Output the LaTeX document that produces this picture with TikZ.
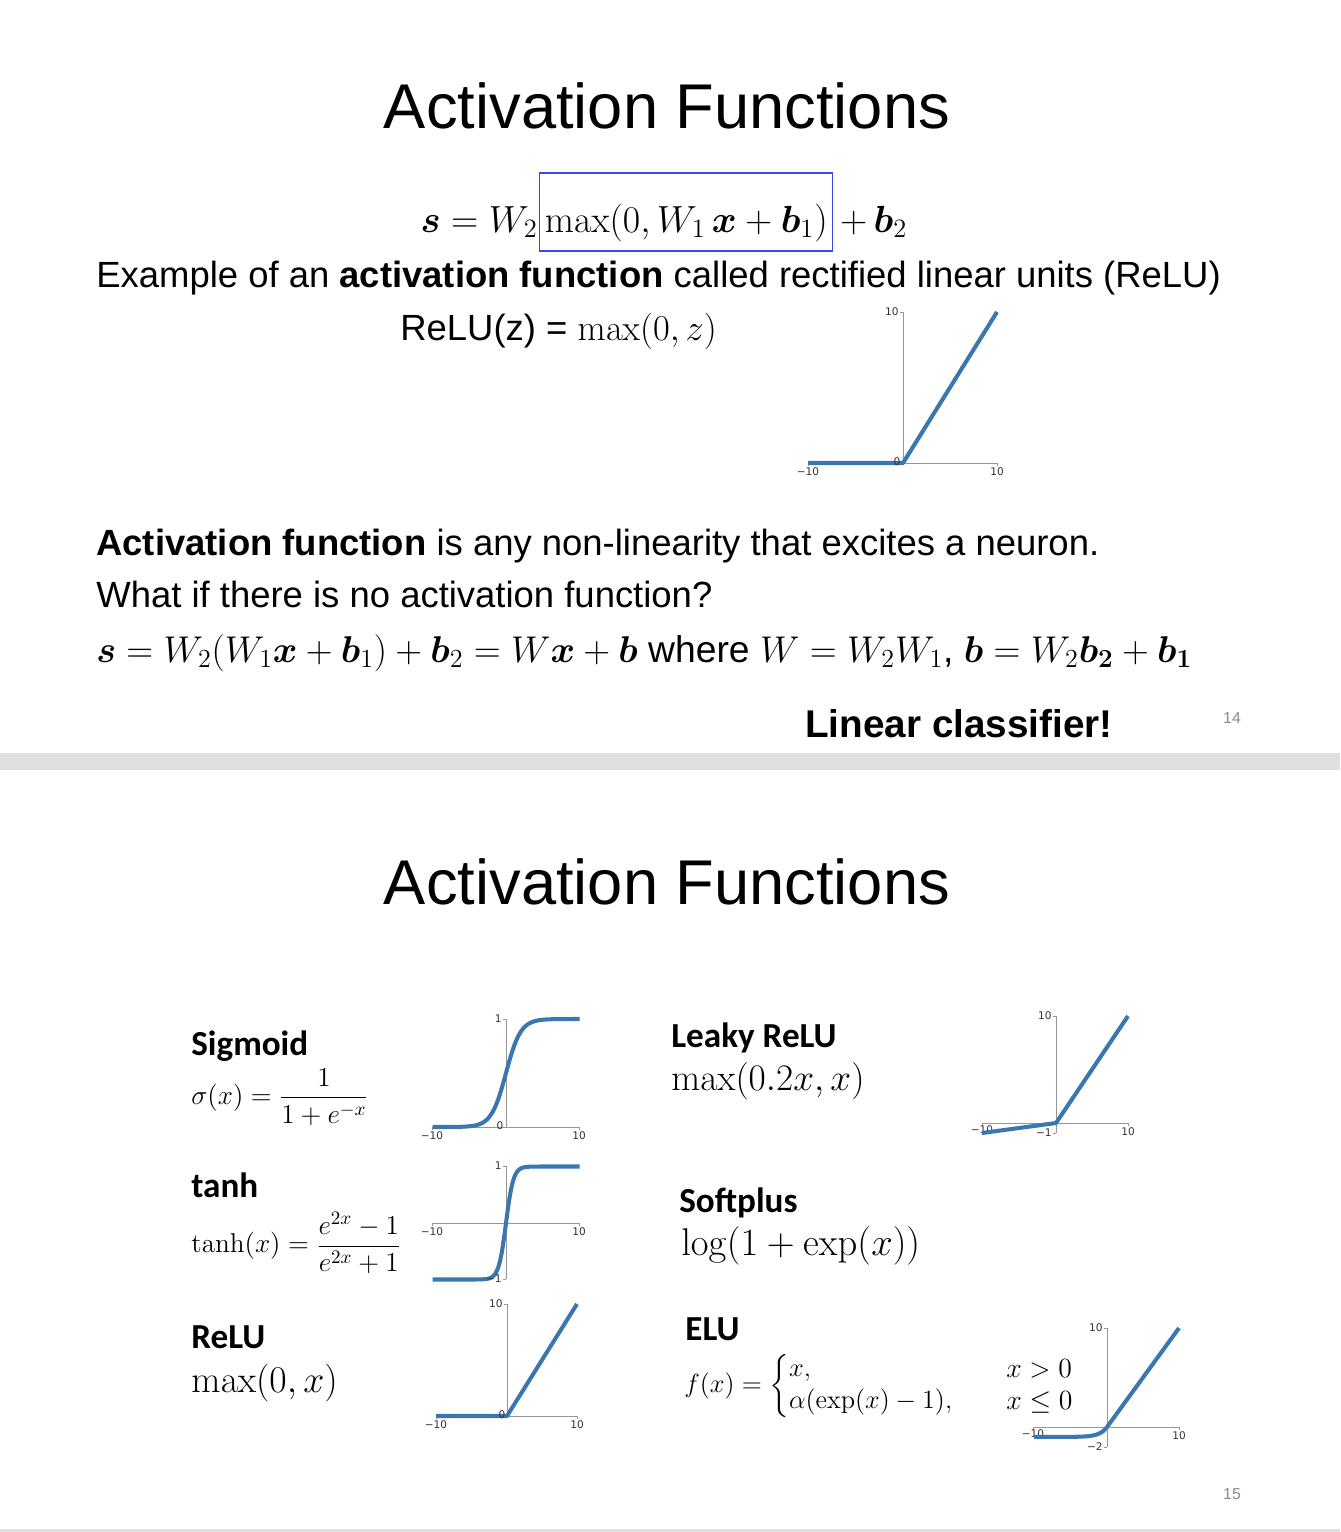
\RequirePackage{fix-cm}
\documentclass[tikz,border=0pt]{standalone}
\usepackage{amsmath,amssymb}
\usepackage[no-math]{fontspec}
\setmainfont{Liberation Sans}
\newfontfamily\calibri{Carlito}
\newfontfamily\ticksans{DejaVu Sans}
\usetikzlibrary{positioning}
\definecolor{plotblue}{RGB}{58,118,175}
\definecolor{boxblue}{RGB}{60,70,240}
\definecolor{axisgrey}{RGB}{150,150,150}
\definecolor{bandgrey}{RGB}{224,224,224}
\definecolor{pagegrey}{RGB}{140,140,140}
\tikzset{
	txt/.style={inner sep=0pt, anchor=base west},
	titletxt/.style={inner sep=0pt, anchor=base, font=\fontsize{36}{40}\selectfont},
	bodytxt/.style={txt, font=\fontsize{20.75}{25}\selectfont},
	mathtxt/.style={txt, font=\fontsize{#1}{#1}\selectfont},
	namelbl/.style={txt, font=\calibri\bfseries\fontsize{20}{24}\selectfont},
	ticklbl/.style={inner sep=0.6pt, font=\ticksans\fontsize{6}{7}\selectfont, text=black!80},
	axisline/.style={axisgrey, line width=0.5pt},
	curve/.style={plotblue, line width=2.3pt, line join=round},
	pagenum/.style={inner sep=0pt, anchor=base, font=\fontsize{9}{10}\selectfont, text=pagegrey}
}

\begin{document}
\begin{tikzpicture}[x=0.02cm, y=-0.02cm]
	\useasboundingbox[fill=white] (0,0) rectangle (1340,1532);

	\node[titletxt] (titlea) at (667,128) {Activation Functions};
	\node[mathtxt=21.5, anchor=base east] (eqlhs) at (538,232) {$\boldsymbol{s}=W_2$};
	\node[mathtxt=21.5, draw=boxblue, line width=0.6pt, inner xsep=3pt, inner ysep=0pt, text height=1.18cm, text depth=0.38cm] (eqbox) at (539,232) {$\max(0,W_1\,\boldsymbol{x}+\boldsymbol{b}_1)$};
	\node[mathtxt=21.5] (eqrhs) at (eqbox.base east) {$\,+\,\boldsymbol{b}_2$};
	\node[bodytxt] (example) at (96,287) {Example of an \textbf{activation function} called rectified linear units (ReLU)};
	\node[bodytxt] (reludef) at (400,340) {ReLU(z) = $\max(0,z)$};

	\draw[axisline] (808,463) -- (997,463);
	\draw[axisline] (903,312) -- (903,463);
	\draw[axisline] (808,463) -- (808,466);
	\draw[axisline] (997,463) -- (997,466);
	\draw[axisline] (900,312) -- (903,312);
	\draw[curve] (808,463) -- (903,463) -- (997,312);
	\node[ticklbl, anchor=east] (ra10) at (900,312) {10};
	\node[ticklbl, anchor=north] (ram10) at (808,466) {−10};
	\node[ticklbl, anchor=north] (rap10) at (997,466) {10};
	\node[ticklbl] (ra0) at (897,462) {0};

	\node[bodytxt] (actdef) at (96,555) {\textbf{Activation function} is any non-linearity that excites a neuron.};
	\node[bodytxt] (noact) at (96,607) {What if there is no activation function?};
	\node[bodytxt, font=\fontsize{21.2}{25}\selectfont] (lineq) at (96,662) {$\boldsymbol{s}=W_2(W_1\boldsymbol{x}+\boldsymbol{b}_1)+\boldsymbol{b}_2=W\boldsymbol{x}+\boldsymbol{b}$ where $W=W_2W_1$, $\boldsymbol{b}=W_2\boldsymbol{b}_{\mathbf{2}}+\boldsymbol{b}_{\mathbf{1}}$};
	\node[txt, font=\bfseries\fontsize{22}{26}\selectfont] (linclass) at (805,737) {Linear classifier!};
	\node[pagenum] (pagea) at (1232,723) {14};

	\fill[bandgrey] (0,753) rectangle (1340,770);

	\node[titletxt] (titleb) at (667,904) {Activation Functions};

	\node[namelbl] (signame) at (191,1055) {Sigmoid};
	\node[mathtxt=15.5, anchor=west] (sigeq) at (191,1097) {$\sigma(x)=\dfrac{1}{1+e^{-x}}$};
	\draw[axisline] (432,1127) -- (579,1127);
	\draw[axisline] (506,1019) -- (506,1127);
	\draw[axisline] (432,1127) -- (432,1130);
	\draw[axisline] (579,1127) -- (579,1130);
	\draw[axisline] (503,1019) -- (506,1019);
	\draw[curve] plot[domain=-10:10, samples=81, smooth] ({506+7.35*\x},{1127-108*((\x>=0)/(1+exp(-abs(\x)))+(\x<0)*exp(-abs(\x))/(1+exp(-abs(\x))))});
	\node[ticklbl, anchor=east] (sg1) at (503,1019) {1};
	\node[ticklbl, anchor=north] (sgm10) at (432,1130) {−10};
	\node[ticklbl, anchor=north] (sgp10) at (579,1130) {10};
	\node[ticklbl] (sg0) at (500,1126) {0};

	\node[namelbl] (tanhname) at (191,1197) {tanh};
	\node[mathtxt=15.5, anchor=west] (tanheq) at (191,1243) {$\tanh(x)=\dfrac{e^{2x}-1}{e^{2x}+1}$};
	\draw[axisline] (432,1223) -- (579,1223);
	\draw[axisline] (506,1166) -- (506,1279);
	\draw[axisline] (432,1223) -- (432,1226);
	\draw[axisline] (579,1223) -- (579,1226);
	\draw[axisline] (503,1166) -- (506,1166);
	\draw[axisline] (503,1279) -- (506,1279);
	\draw[curve] plot[domain=-10:10, samples=101, smooth] ({506+7.35*\x},{1223-56.5*((\x>=0)-(\x<0))*(1-exp(-2*abs(\x)))/(1+exp(-2*abs(\x)))});
	\node[ticklbl, anchor=east] (th1) at (503,1166) {1};
	\node[ticklbl, anchor=east] (thm1) at (503,1279) {−1};
	\node[ticklbl, anchor=north] (thm10) at (432,1226) {−10};
	\node[ticklbl, anchor=north] (thp10) at (579,1226) {10};

	\node[namelbl] (reluname) at (191,1348) {ReLU};
	\node[mathtxt=21.5] (relueq) at (191,1392) {$\max(0,x)$};
	\draw[axisline] (436,1416) -- (577,1416);
	\draw[axisline] (507,1304) -- (507,1416);
	\draw[axisline] (436,1416) -- (436,1419);
	\draw[axisline] (577,1416) -- (577,1419);
	\draw[axisline] (504,1304) -- (507,1304);
	\draw[curve] (436,1416) -- (507,1416) -- (577,1304);
	\node[ticklbl, anchor=east] (rb10) at (504,1304) {10};
	\node[ticklbl, anchor=north] (rbm10) at (436,1419) {−10};
	\node[ticklbl, anchor=north] (rbp10) at (577,1419) {10};
	\node[ticklbl] (rb0) at (502,1415) {0};

	\node[namelbl] (leakyname) at (671,1047) {Leaky ReLU};
	\node[mathtxt=21.3] (leakyeq) at (671,1090) {$\max(0.2x,x)$};
	\draw[axisline] (982,1123) -- (1128,1123);
	\draw[axisline] (1056,1016) -- (1056,1133);
	\draw[axisline] (982,1123) -- (982,1126);
	\draw[axisline] (1128,1123) -- (1128,1126);
	\draw[axisline] (1053,1016) -- (1056,1016);
	\draw[axisline] (1053,1133) -- (1056,1133);
	\node[ticklbl, anchor=north] (lkm10) at (982,1124) {−10};
	\node[ticklbl, anchor=north] (lkp10) at (1128,1126) {10};
	\draw[curve] (982,1133) -- (1056,1123) -- (1128,1016);
	\node[ticklbl, anchor=east] (lk10) at (1053,1016) {10};
	\node[ticklbl, anchor=east] (lkm1) at (1053,1133) {−1};

	\node[namelbl] (softname) at (679,1212) {Softplus};
	\node[mathtxt=22] (softeq) at (681,1255) {$\log(1+\exp(x))$};

	\node[namelbl] (eluname) at (685,1340) {ELU};
	\node[mathtxt=15, anchor=west] (elueq) at (684,1386) {$f(x)=\begin{cases}x,\\ \alpha(\exp(x)-1),\end{cases}$};
	\node[mathtxt=15.8] (elupos) at (1006,1377) {$x>0$};
	\node[mathtxt=15.8] (eluneg) at (1006,1409) {$x\leq0$};
	\draw[axisline] (1033,1427) -- (1179,1427);
	\draw[axisline] (1107,1328) -- (1107,1447);
	\draw[axisline] (1033,1427) -- (1033,1430);
	\draw[axisline] (1179,1427) -- (1179,1430);
	\draw[axisline] (1104,1328) -- (1107,1328);
	\draw[axisline] (1104,1447) -- (1107,1447);
	\node[ticklbl, anchor=north] (elm10) at (1033,1428) {−10};
	\node[ticklbl, anchor=north] (elp10) at (1179,1430) {10};
	\draw[curve] plot[domain=-10:0, samples=41, smooth] ({1107+7.3*\x},{1427-9.9*(exp(\x)-1)}) -- (1179,1328);
	\node[ticklbl, anchor=east] (el10) at (1104,1328) {10};
	\node[ticklbl, anchor=east] (elm2) at (1104,1447) {−2};

	\node[pagenum] (pageb) at (1232,1499) {15};
	\fill[bandgrey] (0,1529) rectangle (1340,1532);
\end{tikzpicture}
\end{document}
